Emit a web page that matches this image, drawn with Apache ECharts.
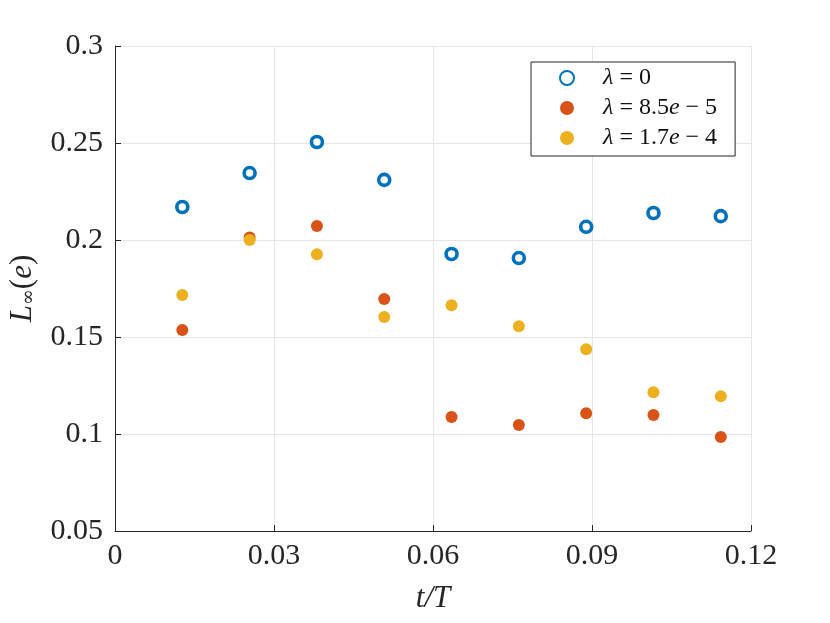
<!DOCTYPE html>
<html>
<head>
    <meta charset="UTF-8">
    <title>L_inf error</title>
    <script src="https://cdn.jsdelivr.net/npm/echarts@6/dist/echarts.min.js"></script>
    <style>
        html, body { margin: 0; padding: 0; background: #fff; }
        #chart { width: 830px; height: 623px; }
    </style>
</head>
<body>
<div id="chart"></div>
<script type="text/javascript">
    // data
    let tValues = [0.0127, 0.0254, 0.0381, 0.0508, 0.0635, 0.0762, 0.0889, 0.1016, 0.1143];
    let errLambda0 = [0.217, 0.2345, 0.2505, 0.231, 0.1928, 0.1907, 0.2068, 0.2139, 0.2123];
    let errLambda85 = [0.1536, 0.2013, 0.2072, 0.1696, 0.1088, 0.1046, 0.1107, 0.1098, 0.0985];
    let errLambda17 = [0.1716, 0.2000, 0.1927, 0.1603, 0.1664, 0.1556, 0.1437, 0.1215, 0.1195];
    let seriesNames = ['lam0', 'lam85', 'lam17'];
    let legendTexts = ['{t|= 0}', '{t|= 8.5}{e|e}{t| − 5}', '{t|= 1.7}{e|e}{t| − 4}'];
    let xTicks = [0, 0.03, 0.06, 0.09, 0.12];

    let font = 'Liberation Serif';
    let ink = '#262626';

    function pairs(ys) {
        return tValues.map(function (t, i) { return [t, ys[i]]; });
    }

    let chart = echarts.init(document.getElementById('chart'));

    let option = {
        animation: false,
        backgroundColor: '#ffffff',
        textStyle: { fontFamily: font },
        grid: { left: 115, right: 79, top: 46, bottom: 92, containLabel: false, outerBoundsMode: 'none' },
        legend: {
            orient: 'vertical',
            left: 531,
            top: 62,
            data: seriesNames,
            backgroundColor: '#ffffff',
            borderColor: ink,
            borderWidth: 1,
            borderRadius: 0,
            padding: [4, 18, 6, 28],
            itemGap: 6,
            itemWidth: 16,
            itemHeight: 14,
            formatter: function (name) {
                let i = seriesNames.indexOf(name);
                return '{l|λ} ' + legendTexts[i];
            },
            textStyle: {
                fontFamily: font,
                color: '#111',
                fontSize: 24,
                lineHeight: 24,
                rich: {
                    l: { fontFamily: font, fontStyle: 'italic', fontSize: 24, lineHeight: 24, padding: [0, 0, 0, 23], color: '#111' },
                    t: { fontFamily: font, fontSize: 24, lineHeight: 24, color: '#111' },
                    e: { fontFamily: font, fontStyle: 'italic', fontSize: 24, lineHeight: 24, color: '#111' }
                }
            }
        },
        xAxis: {
            type: 'value',
            min: 0,
            max: 0.12,
            interval: 0.03,
            name: 't/T',
            nameLocation: 'middle',
            nameGap: 52,
            nameTextStyle: { fontFamily: font, fontStyle: 'italic', fontSize: 31, color: ink },
            axisLine: { show: true, lineStyle: { color: ink, width: 1 } },
            axisTick: { show: true, inside: true, length: 6, lineStyle: { color: ink } },
            axisLabel: {
                fontFamily: font, fontSize: 30, color: ink, margin: 10,
                formatter: function (v) { return xTicks.indexOf(+v.toFixed(2)) >= 0 ? String(+v.toFixed(2)) : ''; }
            },
            splitLine: { show: true, lineStyle: { color: '#e6e6e6', width: 1 } }
        },
        yAxis: {
            type: 'value',
            min: 0.05,
            max: 0.3,
            interval: 0.05,
            name: '{L|L}{s|∞}{p|(}{e|e}{p|)}',
            nameLocation: 'middle',
            nameGap: 76,
            nameRotate: 90,
            nameTextStyle: {
                color: ink,
                rich: {
                    L: { fontFamily: font, fontStyle: 'italic', fontSize: 31, color: ink },
                    s: { fontFamily: 'DejaVu Serif', fontSize: 19, color: ink, padding: [14, 0, 0, 0] },
                    p: { fontFamily: font, fontSize: 31, color: ink },
                    e: { fontFamily: font, fontStyle: 'italic', fontSize: 31, color: ink }
                }
            },
            axisLine: { show: true, lineStyle: { color: ink, width: 1 } },
            axisTick: { show: true, inside: true, length: 6, lineStyle: { color: ink } },
            axisLabel: {
                fontFamily: font, fontSize: 30, color: ink, margin: 12,
                formatter: function (v) { return String(+v.toFixed(2)); }
            },
            splitLine: { show: true, lineStyle: { color: '#e6e6e6', width: 1 } }
        },
        series: [
            {
                name: seriesNames[0],
                type: 'scatter',
                symbol: 'circle',
                symbolSize: 11,
                data: pairs(errLambda0),
                itemStyle: { color: '#ffffff', borderColor: '#0072BD', borderWidth: 3.6, opacity: 1 }
            },
            {
                name: seriesNames[1],
                type: 'scatter',
                symbol: 'circle',
                symbolSize: 12,
                data: pairs(errLambda85),
                itemStyle: { color: '#D95319', opacity: 1 }
            },
            {
                name: seriesNames[2],
                type: 'scatter',
                symbol: 'circle',
                symbolSize: 12,
                data: pairs(errLambda17),
                itemStyle: { color: '#EDB120', opacity: 1 }
            }
        ]
    };

    chart.setOption(option);
</script>
</body>
</html>
